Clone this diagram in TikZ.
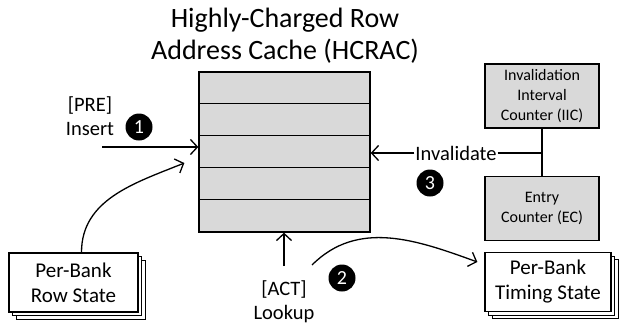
\documentclass[tikz,border=0pt]{standalone}
\usepackage{fontspec}
\setmainfont{Carlito}
\usepackage{tikz}
\usetikzlibrary{
    positioning,
    arrows.meta,
    shapes,
    calc,
    shadows
}
\definecolor{CacheGray}{RGB}{217,217,217}

\begin{document}
\begin{tikzpicture}[
            x=1pt, y=-1pt,
            >={Straight Barb[length=7pt,width=15pt]},
            line width=1.3pt,
            cachebox/.style={rectangle, draw, fill=CacheGray, minimum width=171pt, minimum height=160pt, inner sep=0pt},
            counter/.style={rectangle, draw, fill=CacheGray, minimum width=114pt, minimum height=64pt, align=center, font=\fontsize{16}{20}\selectfont},
            bankstate/.style={rectangle, draw, fill=white, minimum height=59pt, align=center, font=\fontsize{21}{25}\selectfont,
                double copy shadow={shadow xshift=3.5pt, shadow yshift=-3.5pt, line width=1pt}},
            lbl/.style={align=center, font=\fontsize{20.5}{23.5}\selectfont, inner sep=0.5pt},
            stepnum/.style={circle, fill=black, text=white, minimum size=27pt, inner sep=0pt, font=\fontsize{20}{20}\selectfont},
        ]
        \useasboundingbox (0,0) rectangle (620,324);

        % ===== HCRAC =====
        \node[align=center, font=\fontsize{28}{32}\selectfont] (title) at (285,36) {Highly-Charged Row\\Address Cache (HCRAC)};
        \node[cachebox] (cache) at (284.5,152) {};
        \foreach \i in {1,...,4}
            \draw (cache.north west) ++(0,32*\i) -- ++(171,0);

        % ===== Step 1: Insert =====
        \node[lbl] (pre) at (90,116) {[PRE]\\Insert};
        \node[stepnum] (one) at (139,127) {1};
        \coordinate (insstart) at (102,147);
        \draw[->] (insstart) -- (insstart -| cache.west);

        \node[bankstate, minimum width=129pt] (rowstate) at (73.5,282.5) {Per-Bank\\Row State};
        \draw[->] ([xshift=8pt]rowstate.north) to[out=90, in=202] ([xshift=-14pt, yshift=-11pt]cache.west);

        % ===== Step 2: Lookup =====
        \coordinate (lkup) at (284,266);
        \draw[->] (lkup) -- (lkup |- cache.south);
        \node[lbl] (act) at (284,301.5) {[ACT]\\Lookup};
        \node[stepnum] (two) at (342,278) {2};

        \node[bankstate, minimum width=126pt] (timing) at (548,282) {Per-Bank\\Timing State};
        \coordinate (tstart) at (312,265);
        \draw[->] (tstart) to[out=45, in=160] ([xshift=-7pt, yshift=20pt]timing.west);

        % ===== Step 3: Invalidate =====
        \node[counter] (iic) at (542,96) {Invalidation\\Interval\\Counter (IIC)};
        \node[counter] (ec) at (542,208.5) {Entry\\Counter (EC)};
        \node[lbl] (inv) at (456,153) {Invalidate};
        \coordinate (jn) at (iic.south |- inv);
        \draw (iic.south) -- (ec.north);
        \draw (inv.east) -- (jn);
        \draw[->] (inv.west) -- (inv.west -| cache.east);
        \node[stepnum] (three) at (430,183) {3};
\end{tikzpicture}
\end{document}
